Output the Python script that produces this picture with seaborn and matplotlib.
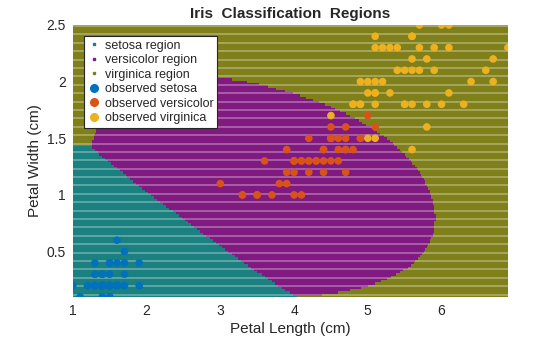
import numpy as np
import pandas as pd
import matplotlib
matplotlib.use("Agg")
import matplotlib.pyplot as plt
import seaborn as sns
from matplotlib.lines import Line2D

# Fisher iris petal measurements (cm)
species_names = ["setosa", "versicolor", "virginica"]

setosa_length = [1.4, 1.4, 1.3, 1.5, 1.4, 1.7, 1.4, 1.5, 1.4, 1.5, 1.5, 1.6, 1.4, 1.1, 1.2, 1.5, 1.3,
                 1.4, 1.7, 1.5, 1.7, 1.5, 1.0, 1.7, 1.9, 1.6, 1.6, 1.5, 1.4, 1.6, 1.6, 1.5, 1.5, 1.4,
                 1.5, 1.2, 1.3, 1.4, 1.3, 1.5, 1.3, 1.3, 1.3, 1.6, 1.9, 1.4, 1.6, 1.4, 1.5, 1.4]
setosa_width = [0.2, 0.2, 0.2, 0.2, 0.2, 0.4, 0.3, 0.2, 0.2, 0.1, 0.2, 0.2, 0.1, 0.1, 0.2, 0.4, 0.4,
                0.3, 0.3, 0.3, 0.2, 0.4, 0.2, 0.5, 0.2, 0.2, 0.4, 0.2, 0.2, 0.2, 0.2, 0.4, 0.1, 0.2,
                0.2, 0.2, 0.2, 0.1, 0.2, 0.2, 0.3, 0.3, 0.2, 0.6, 0.4, 0.3, 0.2, 0.2, 0.2, 0.2]
versicolor_length = [4.7, 4.5, 4.9, 4.0, 4.6, 4.5, 4.7, 3.3, 4.6, 3.9, 3.5, 4.2, 4.0, 4.7, 3.6, 4.4,
                     4.5, 4.1, 4.5, 3.9, 4.8, 4.0, 4.9, 4.7, 4.3, 4.4, 4.8, 5.0, 4.5, 3.5, 3.8, 3.7,
                     3.9, 5.1, 4.5, 4.5, 4.7, 4.4, 4.1, 4.0, 4.4, 4.6, 4.0, 3.3, 4.2, 4.2, 4.2, 4.3,
                     3.0, 4.1]
versicolor_width = [1.4, 1.5, 1.5, 1.3, 1.5, 1.3, 1.6, 1.0, 1.3, 1.4, 1.0, 1.5, 1.0, 1.4, 1.3, 1.4,
                    1.5, 1.0, 1.5, 1.1, 1.8, 1.3, 1.5, 1.2, 1.3, 1.4, 1.4, 1.7, 1.5, 1.0, 1.1, 1.0,
                    1.2, 1.6, 1.5, 1.6, 1.5, 1.3, 1.3, 1.3, 1.2, 1.4, 1.2, 1.0, 1.3, 1.2, 1.3, 1.3,
                    1.1, 1.3]
virginica_length = [6.0, 5.1, 5.9, 5.6, 5.8, 6.6, 4.5, 6.3, 5.8, 6.1, 5.1, 5.3, 5.5, 5.0, 5.1, 5.3,
                    5.5, 6.7, 6.9, 5.0, 5.7, 4.9, 6.7, 4.9, 5.7, 6.0, 4.8, 4.9, 5.6, 5.8, 6.1, 6.4,
                    5.6, 5.1, 5.6, 6.1, 5.6, 5.5, 4.8, 5.4, 5.6, 5.1, 5.1, 5.9, 5.7, 5.2, 5.0, 5.2,
                    5.4, 5.1]
virginica_width = [2.5, 1.9, 2.1, 1.8, 2.2, 2.1, 1.7, 1.8, 1.8, 2.5, 2.0, 1.9, 2.1, 2.0, 2.4, 2.3,
                   1.8, 2.2, 2.3, 1.5, 2.3, 2.0, 2.0, 1.8, 2.1, 1.8, 1.8, 1.8, 2.1, 1.6, 1.9, 2.0,
                   2.2, 1.5, 1.4, 2.3, 2.4, 1.8, 1.8, 2.1, 2.4, 2.3, 1.9, 2.3, 2.5, 2.3, 1.9, 2.0,
                   2.3, 1.8]

region_colors = ["#1a8080", "#801a80", "#80801a"]
observed_colors = ["#0072bd", "#d95319", "#edb120"]

iris = pd.DataFrame({
    "length": setosa_length + versicolor_length + virginica_length,
    "width": setosa_width + versicolor_width + virginica_width,
    "species": (["setosa"] * len(setosa_length) + ["versicolor"] * len(versicolor_length)
                + ["virginica"] * len(virginica_length)),
})


def fit_rbf_svm(Z, t, box=1.0, tol=1e-3, max_iter=200000):
    """Binary SVM with Gaussian kernel exp(-|x-z|^2), solved by SMO (libsvm style)."""
    n = len(t)
    K = np.exp(-((Z[:, None, :] - Z[None, :, :]) ** 2).sum(-1))
    Q = t[:, None] * t[None, :] * K
    a = np.zeros(n)
    G = -np.ones(n)
    for _ in range(max_iter):
        up = ((t > 0) & (a < box)) | ((t < 0) & (a > 0))
        low = ((t > 0) & (a > 0)) | ((t < 0) & (a < box))
        s = -t * G
        iu = np.flatnonzero(up)
        i = iu[np.argmax(s[iu])]
        gmax = s[i]
        il = np.flatnonzero(low)
        if gmax - s[il].min() < tol:
            break
        b = gmax - s[il]
        quad = K[i, i] + K[il, il] - 2.0 * K[i, il]
        quad[quad <= 0] = 1e-12
        obj = np.where(b > 0, -(b * b) / quad, np.inf)
        j = il[np.argmin(obj)]
        ai, aj = a[i], a[j]
        if t[i] != t[j]:
            qc = max(Q[i, i] + Q[j, j] + 2 * Q[i, j], 1e-12)
            delta = (-G[i] - G[j]) / qc
            diff = a[i] - a[j]
            a[i] += delta
            a[j] += delta
            if diff > 0:
                if a[j] < 0:
                    a[j] = 0; a[i] = diff
                if a[i] > box:
                    a[i] = box; a[j] = box - diff
            else:
                if a[i] < 0:
                    a[i] = 0; a[j] = -diff
                if a[j] > box:
                    a[j] = box; a[i] = box + diff
        else:
            qc = max(Q[i, i] + Q[j, j] - 2 * Q[i, j], 1e-12)
            delta = (G[i] - G[j]) / qc
            tot = a[i] + a[j]
            a[i] -= delta
            a[j] += delta
            if tot > box:
                if a[i] > box:
                    a[i] = box; a[j] = tot - box
                if a[j] > box:
                    a[j] = box; a[i] = tot - box
            else:
                if a[j] < 0:
                    a[j] = 0; a[i] = tot
                if a[i] < 0:
                    a[i] = 0; a[j] = tot
        G += Q[:, i] * (a[i] - ai) + Q[:, j] * (a[j] - aj)
    yG = t * G
    free = (a > 1e-12) & (a < box - 1e-12)
    if free.any():
        rho = yG[free].mean()
    else:
        at_up = a >= box - 1e-12
        ub_mask = (at_up & (t < 0)) | (~at_up & (t > 0))
        rho = 0.5 * (yG[ub_mask].min() + yG[~ub_mask].max())
    return a * t, -rho


# One-vs-all Gaussian-kernel SVMs on standardized predictors
X = iris[["length", "width"]].to_numpy()
mu, sd = X.mean(0), X.std(0, ddof=1)
Z = (X - mu) / sd

step = 0.02
gx = np.arange(X[:, 0].min(), X[:, 0].max() + step / 2, step)
gy = np.arange(X[:, 1].min(), X[:, 1].max() + step / 2, step)
GX, GY = np.meshgrid(gx, gy)
grid = np.column_stack([GX.ravel(), GY.ravel()])
Zg = (grid - mu) / sd
Kg = np.exp(-((Zg[:, None, :] - Z[None, :, :]) ** 2).sum(-1))

scores = np.zeros((len(grid), len(species_names)))
for k, name in enumerate(species_names):
    t = np.where(iris["species"].to_numpy() == name, 1.0, -1.0)
    coef, bias = fit_rbf_svm(Z, t)
    scores[:, k] = Kg @ coef + bias

grid_df = pd.DataFrame({"x": grid[:, 0], "y": grid[:, 1],
                        "region": np.array(species_names)[scores.argmax(1)]})

# ---- drawing ----
sns.set_theme(style="white")
plt.rcParams["font.family"] = ["Liberation Sans", "DejaVu Sans"]

fig = plt.figure(figsize=(5.6, 3.37), dpi=100)
ax = fig.add_axes([0.130, 0.119, 0.777, 0.807])

sns.scatterplot(data=grid_df, x="x", y="y", hue="region", hue_order=species_names,
                palette=region_colors, marker="s", s=4, linewidth=0, legend=False,
                ax=ax, zorder=1)

# light banding across the region mesh
band_y = 0.194 + 0.0741 * np.arange(-1, 33)
ax.hlines(band_y, gx.min() - 0.01, gx.max() + 0.01, colors="white", alpha=0.32,
          linewidth=1.3, zorder=2)

sns.scatterplot(data=iris, x="length", y="width", hue="species", hue_order=species_names,
                palette=observed_colors, s=30, linewidth=0, legend=False, ax=ax, zorder=3)

ax.set_xlim(gx.min(), gx.max())
ax.set_ylim(gy.min(), gy.max())
ax.set_xticks([1, 2, 3, 4, 5, 6])
ax.set_xticklabels(["1", "2", "3", "4", "5", "6"])
ax.set_yticks([0.5, 1, 1.5, 2, 2.5])
ax.set_yticklabels(["0.5", "1", "1.5", "2", "2.5"])
ax.tick_params(axis="both", length=0, labelsize=10, labelcolor="#262626", pad=5)
for sp in ax.spines.values():
    sp.set_visible(False)

ax.set_xlabel("Petal Length (cm)", fontsize=11, color="#262626", labelpad=3)
ax.set_ylabel("Petal Width (cm)", fontsize=11, color="#262626", labelpad=3)
ax.set_title("Iris  Classification  Regions", fontsize=11, fontweight="bold",
             color="#262626", pad=5)

handles = [Line2D([], [], linestyle="", marker="s", markersize=2, color=c) for c in region_colors]
handles += [Line2D([], [], linestyle="", marker="o", markersize=5.5, color=c) for c in observed_colors]
labels = ["setosa region", "versicolor region", "virginica region",
          "observed setosa", "observed versicolor", "observed virginica"]
leg = ax.legend(handles, labels, loc="upper left", bbox_to_anchor=(0.025, 0.96),
                fontsize=9, frameon=True, fancybox=False, framealpha=1,
                edgecolor="#262626", borderpad=0.3, labelspacing=0.2,
                handlelength=1.0, handletextpad=0.4, borderaxespad=0)
leg.get_frame().set_linewidth(0.8)
leg.set_zorder(5)

fig.savefig("out.png", dpi=100)
